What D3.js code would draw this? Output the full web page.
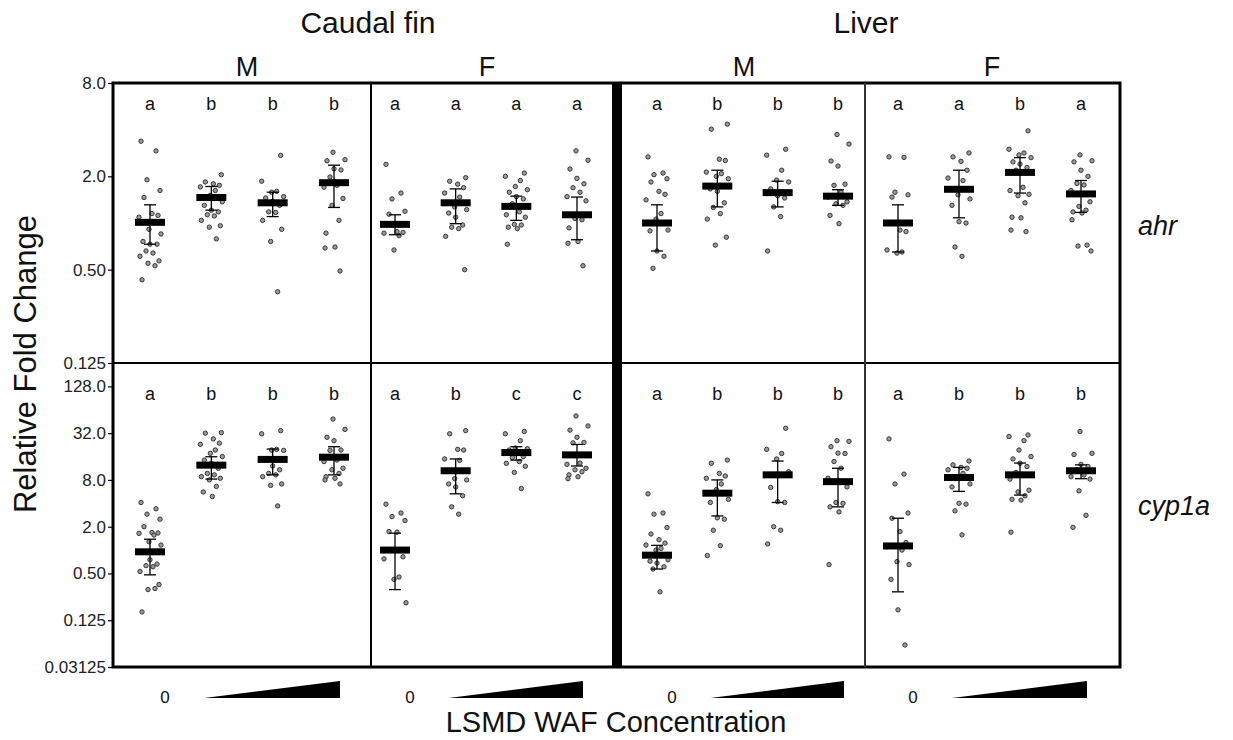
<!DOCTYPE html>
<html>
<head>
<meta charset="utf-8">
<script src="https://cdn.jsdelivr.net/npm/d3@7"></script>
<style>
  html, body { margin: 0; padding: 0; background: #fff; }
  svg { display: block; font-family: "Liberation Sans", Arial, Helvetica, sans-serif; }
</style>
</head>
<body>
<svg id="chart" width="1233" height="740"></svg>
<script>
// ---------------- DATA ----------------
const tissues = ["Caudal fin", "Liver"];
const sexes = ["M", "F"];
const genes = ["ahr", "cyp1a"];
const groups = ["0", "c1", "c2", "c3"];
const axisLabel = "Relative Fold Change";
const xTitle = "LSMD WAF Concentration";

const ahrTicks = [0.125, 0.5, 2, 8];
const ahrTickLabels = ["0.125", "0.50", "2.0", "8.0"];
const cypTicks = [0.03125, 0.125, 0.5, 2, 8, 32, 128];
const cypTickLabels = ["0.03125", "0.125", "0.50", "2.0", "8.0", "32.0", "128.0"];

// letters per panel (CF-M, CF-F, L-M, L-F)
const ahrLetters = [["a","b","b","b"],["a","a","a","a"],["a","b","b","b"],["a","a","b","a"]];
const cypLetters = [["a","b","b","b"],["a","b","c","c"],["a","b","b","b"],["a","b","b","b"]];

// ahr, Caudal fin, M
const ahrCfMMean = [1.01, 1.46, 1.35, 1.82];
const ahrCfMLo = [0.73, 1.21, 1.10, 1.26];
const ahrCfMHi = [1.31, 1.72, 1.58, 2.36];
const ahrCfMPts = [
  [3.37, 2.92, 1.9, 1.62, 1.46, 1.15, 1.12, 1.09, 1.01, 0.91, 0.85, 0.76, 0.73, 0.73, 0.66, 0.64, 0.61, 0.57, 0.55, 0.53, 0.43],
  [2.05, 1.84, 1.79, 1.75, 1.71, 1.62, 1.51, 1.37, 1.30, 1.21, 1.18, 1.13, 1.11, 1.04, 0.96, 0.94, 0.79],
  [2.73, 1.86, 1.60, 1.58, 1.48, 1.45, 1.38, 1.30, 1.18, 1.17, 1.04, 0.91, 0.76, 0.36],
  [2.86, 2.56, 2.52, 2.24, 2.2, 1.98, 1.75, 1.70, 1.44, 1.30, 1.04, 0.86, 0.70, 0.69, 0.49]
];
// ahr, Caudal fin, F
const ahrCfFMean = [0.98, 1.35, 1.28, 1.13];
const ahrCfFLo = [0.84, 0.99, 1.04, 0.78];
const ahrCfFHi = [1.13, 1.66, 1.49, 1.47];
const ahrCfFPts = [
  [2.39, 1.56, 1.43, 1.19, 1.14, 0.88, 0.87, 0.86, 0.83, 0.67],
  [1.96, 1.86, 1.78, 1.69, 1.56, 1.47, 1.27, 1.22, 1.16, 1.09, 0.97, 0.94, 0.92, 0.82, 0.50],
  [2.10, 2.0, 1.88, 1.72, 1.64, 1.58, 1.48, 1.43, 1.33, 1.18, 1.13, 1.09, 0.98, 0.97, 0.94, 0.92, 0.73],
  [2.92, 2.54, 2.23, 1.94, 1.79, 1.69, 1.58, 1.48, 1.39, 1.07, 1.05, 0.93, 0.76, 0.74, 0.53]
];
// ahr, Liver, M
const ahrLMMean = [1.0, 1.73, 1.57, 1.49];
const ahrLMLo = [0.66, 1.27, 1.27, 1.30];
const ahrLMHi = [1.31, 2.19, 1.86, 1.64];
const ahrLMPts = [
  [2.67, 2.1, 2.05, 1.93, 1.84, 1.6, 1.53, 1.41, 1.15, 1.06, 0.9, 0.89, 0.66, 0.61, 0.51],
  [4.34, 4.03, 2.58, 2.53, 2.13, 2.08, 2.0, 1.93, 1.66, 1.60, 1.35, 1.26, 1.15, 1.06, 0.81, 0.72],
  [2.99, 2.74, 2.19, 1.89, 1.84, 1.66, 1.5, 1.45, 1.27, 1.1, 0.66],
  [3.72, 3.23, 2.51, 2.33, 1.78, 1.75, 1.58, 1.47, 1.37, 1.33, 1.30, 1.12, 0.99]
];
// ahr, Liver, F
const ahrLFMean = [1.0, 1.65, 2.12, 1.54];
const ahrLFLo = [0.65, 1.08, 1.56, 1.17];
const ahrLFHi = [1.31, 2.19, 2.64, 1.88];
const ahrLFPts = [
  [2.67, 2.65, 1.58, 1.52, 1.47, 0.9, 0.88, 0.67, 0.65, 0.64],
  [2.83, 2.67, 2.5, 2.19, 1.95, 1.88, 1.52, 1.43, 1.3, 1.02, 1.0, 0.70, 0.61],
  [3.93, 2.99, 2.83, 2.75, 2.64, 2.48, 2.4, 2.28, 2.19, 1.70, 1.62, 1.53, 1.5, 1.35, 1.09, 1.08, 0.9, 0.88],
  [2.75, 2.52, 2.48, 2.19, 2.0, 1.8, 1.76, 1.62, 1.37, 1.28, 1.21, 1.18, 1.16, 1.05, 0.72, 0.71, 0.66]
];
// cyp1a, Caudal fin, M
const cypCfMMean = [0.95, 12.4, 14.7, 15.7];
const cypCfMLo = [0.48, 8.2, 9.3, 9.3];
const cypCfMHi = [1.38, 15.9, 20, 21.4];
const cypCfMPts = [
  [4.1, 3.4, 2.9, 2.5, 2.0, 1.68, 1.66, 1.64, 1.56, 1.28, 1.16, 0.95, 0.75, 0.66, 0.63, 0.61, 0.53, 0.36, 0.31, 0.32, 0.16],
  [32.5, 32, 27, 23.8, 23, 19.4, 17.6, 16, 14.4, 13.1, 11.3, 9.7, 9.3, 8.8, 8.4, 8.0, 6.6, 5.6, 4.9],
  [34.5, 31.4, 19.8, 19.4, 19.2, 14.4, 12.1, 10.8, 9.7, 9.3, 8.8, 7.1, 6.8, 3.7],
  [48.6, 35.8, 28.3, 25.6, 19.4, 19.2, 14.4, 13.8, 11.3, 10.8, 9.7, 8.8, 8.4, 8.0, 7.1]
];
// cyp1a, Caudal fin, F
const cypCfFMean = [1.0, 10.5, 18, 16.8];
const cypCfFLo = [0.31, 5.3, 14.4, 12.1];
const cypCfFHi = [1.65, 14.9, 21.4, 22.9];
const cypCfFPts = [
  [3.9, 3.0, 2.7, 2.4, 1.73, 1.70, 0.82, 0.77, 0.45, 0.42, 0.21],
  [34.5, 31.4, 19.8, 19.4, 14.9, 14.3, 8.3, 8.0, 7.1, 6.5, 5.0, 3.6, 2.9],
  [33.6, 31.4, 25.6, 20.6, 20.2, 19.4, 17.5, 16, 15.5, 13.8, 13.1, 12, 10, 6.2],
  [53.3, 39.6, 35, 28.3, 24.3, 24, 13.2, 12.7, 11.3, 10.8, 10.2, 9.3, 8.8, 8.3]
];
// cyp1a, Liver, M
const cypLMMean = [0.86, 5.4, 9.3, 7.6];
const cypLMLo = [0.57, 2.75, 4.1, 3.6];
const cypLMHi = [1.15, 8.0, 14, 11.3];
const cypLMPts = [
  [5.3, 3.0, 2.9, 1.95, 1.61, 1.36, 1.23, 1.16, 1.05, 1.0, 0.75, 0.72, 0.68, 0.61, 0.57, 0.29],
  [14.4, 13.1, 9.7, 9.0, 8.4, 7.1, 6.0, 4.5, 4.1, 2.6, 2.5, 1.8, 1.14, 0.85],
  [37, 19.8, 17.5, 14.9, 10.2, 6.4, 4.2, 4.1, 2.0, 1.8, 1.2],
  [25.6, 25.1, 21.4, 17.7, 17.5, 13.8, 11.3, 8.4, 6.5, 4.1, 4.0, 3.6, 3.1, 0.65]
];
// cyp1a, Liver, F
const cypLFMean = [1.13, 8.6, 9.3, 10.5];
const cypLFLo = [0.29, 5.7, 5.1, 8.3];
const cypLFHi = [2.57, 11.6, 13.2, 12.5];
const cypLFPts = [
  [27, 9.5, 7.1, 3.0, 2.57, 1.73, 1.25, 1.1, 1.0, 0.71, 0.65, 0.42, 0.17, 0.06],
  [14, 12.5, 11.6, 11.3, 10.8, 9.7, 8.4, 7.1, 6.5, 4.0, 3.9, 3.2, 1.57],
  [30.3, 29, 25.6, 19.4, 16, 14.9, 13.1, 11.9, 10, 9.3, 8.2, 5.9, 5.6, 5.0, 4.5, 4.4, 1.7],
  [33.6, 17.6, 17, 12.7, 11.9, 10.8, 9.3, 8.8, 8.2, 5.8, 2.8, 1.96]
];

// ---------------- LAYOUT ----------------
const svg = d3.select("#chart");
const L = 113, R = 1120, T = 83, MID = 363, B = 667;
const groupRanges = [[150, 334], [395, 577], [657, 838], [898, 1081]];
const jitter = [-9, 6, -3, 10, -6, 2, 8, -11, 4, -1, 11, -7, 0, 7, -4, 3, -10, 9, -2, 5, -8, 1];

const yTop = d3.scaleLog().base(2).domain([0.125, 8]).range([MID, T]);
const yBot = d3.scaleLog().base(2).domain([0.03125, 256]).range([B, MID]);

const xScales = groupRanges.map(r => d3.scalePoint().domain(groups).range(r));

const rows = [
  { y: yTop, letters: ahrLetters, letterY: 110, label: genes[0], labelY: 235,
    panels: [
      [ahrCfMMean, ahrCfMLo, ahrCfMHi, ahrCfMPts],
      [ahrCfFMean, ahrCfFLo, ahrCfFHi, ahrCfFPts],
      [ahrLMMean, ahrLMLo, ahrLMHi, ahrLMPts],
      [ahrLFMean, ahrLFLo, ahrLFHi, ahrLFPts]
    ]},
  { y: yBot, letters: cypLetters, letterY: 400, label: genes[1], labelY: 515,
    panels: [
      [cypCfMMean, cypCfMLo, cypCfMHi, cypCfMPts],
      [cypCfFMean, cypCfFLo, cypCfFHi, cypCfFPts],
      [cypLMMean, cypLMLo, cypLMHi, cypLMPts],
      [cypLFMean, cypLFLo, cypLFHi, cypLFPts]
    ]}
];

// background
svg.append("rect").attr("width", 1233).attr("height", 740).attr("fill", "#fff");

// axes
function drawAxis(scale, ticks, labels) {
  const ax = d3.axisLeft(scale).tickValues(ticks).tickFormat((d, i) => labels[i]).tickSize(4).tickPadding(2);
  const g = svg.append("g").attr("transform", `translate(${L - 1},0)`).call(ax);
  g.select(".domain").remove();
  g.selectAll("line").attr("stroke", "#000").attr("stroke-width", 1.2);
  g.selectAll("text").attr("font-size", 17).attr("fill", "#222")
    .attr("font-family", "Liberation Sans, Arial, sans-serif");
}
drawAxis(yTop, ahrTicks, ahrTickLabels);
drawAxis(yBot, cypTicks, cypTickLabels);

// data marks
rows.forEach(row => {
  row.panels.forEach((p, pi) => {
    const [mean, lo, hi, pts] = p;
    const x = xScales[pi];
    const g = svg.append("g");
    groups.forEach((gr, gi) => {
      const cx = x(gr);
      g.selectAll(null).data(pts[gi]).join("circle")
        .attr("cx", (d, i) => cx + jitter[(i + gi * 3) % jitter.length])
        .attr("cy", d => row.y(d))
        .attr("r", 2.2)
        .attr("fill", "#9a9a9a")
        .attr("stroke", "#2a2a2a")
        .attr("stroke-width", 0.9);
      g.append("line").attr("x1", cx).attr("x2", cx)
        .attr("y1", row.y(lo[gi])).attr("y2", row.y(hi[gi]))
        .attr("stroke", "#000").attr("stroke-width", 1.3);
      [lo[gi], hi[gi]].forEach(v => {
        g.append("line").attr("x1", cx - 6).attr("x2", cx + 6)
          .attr("y1", row.y(v)).attr("y2", row.y(v))
          .attr("stroke", "#000").attr("stroke-width", 1.3);
      });
      g.append("rect").attr("x", cx - 15).attr("y", row.y(mean[gi]) - 3.5)
        .attr("width", 30).attr("height", 7).attr("fill", "#000");
      g.append("text").attr("x", cx).attr("y", row.letterY)
        .attr("text-anchor", "middle").attr("font-size", 18).attr("fill", "#111")
        .text(row.letters[pi][gi]);
    });
  });
  svg.append("text").attr("x", 1138).attr("y", row.labelY)
    .attr("font-size", 27).attr("font-style", "italic").attr("fill", "#111")
    .text(row.label);
});

// frame
svg.append("rect").attr("x", L).attr("y", T).attr("width", R - L).attr("height", B - T)
  .attr("fill", "none").attr("stroke", "#000").attr("stroke-width", 3);
svg.append("line").attr("x1", L).attr("x2", R).attr("y1", MID).attr("y2", MID)
  .attr("stroke", "#000").attr("stroke-width", 2);
svg.append("line").attr("x1", 371).attr("x2", 371).attr("y1", T).attr("y2", B)
  .attr("stroke", "#000").attr("stroke-width", 2);
svg.append("rect").attr("x", 612).attr("y", T).attr("width", 10).attr("height", B - T).attr("fill", "#000");
svg.append("line").attr("x1", 865).attr("x2", 865).attr("y1", T).attr("y2", B)
  .attr("stroke", "#333").attr("stroke-width", 2);

// headers
const tissueCenters = [368, 866];
tissues.forEach((t, i) => {
  svg.append("text").attr("x", tissueCenters[i]).attr("y", 33).attr("text-anchor", "middle")
    .attr("font-size", 30).attr("fill", "#111").text(t);
});
const sexCenters = [247, 487, 744, 992];
sexCenters.forEach((cx, i) => {
  svg.append("text").attr("x", cx).attr("y", 76).attr("text-anchor", "middle")
    .attr("font-size", 27).attr("fill", "#111").text(sexes[i % 2]);
});

// y title
svg.append("text").attr("transform", "translate(36,364) rotate(-90)")
  .attr("text-anchor", "middle").attr("font-size", 31).attr("fill", "#111").text(axisLabel);

// concentration indicators
xScales.forEach(x => {
  svg.append("text").attr("x", x("0") + 15).attr("y", 703).attr("text-anchor", "middle")
    .attr("font-size", 17).attr("fill", "#111").text(groups[0]);
  const x0 = x("c1") - 7, x1 = x("c3") + 6;
  svg.append("path").attr("d", `M${x0},698 L${x1},681 L${x1},698 Z`).attr("fill", "#000");
});

svg.append("text").attr("x", 616).attr("y", 732).attr("text-anchor", "middle")
  .attr("font-size", 29).attr("fill", "#111").text(xTitle);
</script>
</body>
</html>
